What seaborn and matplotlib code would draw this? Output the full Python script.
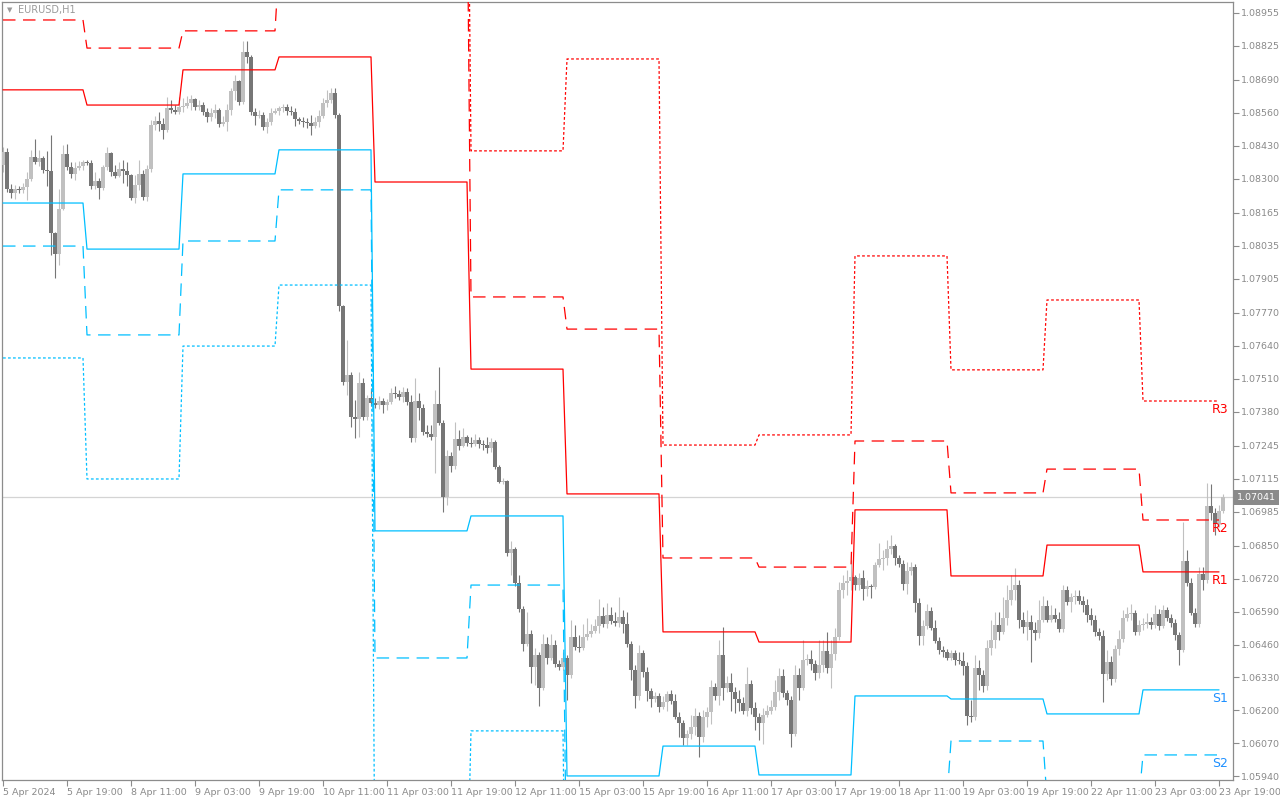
import numpy as np
import pandas as pd
import matplotlib
matplotlib.use("Agg")
import matplotlib.pyplot as plt
import matplotlib.transforms as mtransforms
import seaborn as sns

# ---------------- data (EURUSD H1, 5 Apr 03:00 -> 23 Apr 20:00) ----------------
first_open = 1.08354

closes = [
    1.08406, 1.08259, 1.08244, 1.08259, 1.08255, 1.08267, 1.08299, 1.08386, 1.08366, 1.08382,
    1.08334, 1.08331, 1.08086, 1.08003, 1.08180, 1.08398, 1.08346, 1.08319, 1.08342, 1.08350,
    1.08366, 1.08362, 1.08271, 1.08291, 1.08263, 1.08346, 1.08402, 1.08327, 1.08311, 1.08338,
    1.08331, 1.08315, 1.08224, 1.08275, 1.08319, 1.08228, 1.08338, 1.08512, 1.08528, 1.08516,
    1.08493, 1.08579, 1.08572, 1.08564, 1.08583, 1.08587, 1.08599, 1.08615, 1.08583, 1.08591,
    1.08564, 1.08544, 1.08560, 1.08572, 1.08516, 1.08524, 1.08572, 1.08647, 1.08686, 1.08603,
    1.08801, 1.08781, 1.08564, 1.08548, 1.08552, 1.08504, 1.08524, 1.08560, 1.08568, 1.08579,
    1.08583, 1.08568, 1.08564, 1.08536, 1.08528, 1.08524, 1.08520, 1.08508, 1.08524, 1.08548,
    1.08599, 1.08611, 1.08639, 1.08552, 1.07797, 1.07497, 1.07525, 1.07359, 1.07351, 1.07493,
    1.07359, 1.07434, 1.07414, 1.07406, 1.07422, 1.07406, 1.07418, 1.07454, 1.07450, 1.07438,
    1.07458, 1.07418, 1.07276, 1.07422, 1.07394, 1.07300, 1.07292, 1.07280, 1.07410, 1.07335,
    1.07043, 1.07205, 1.07165, 1.07272, 1.07244, 1.07280, 1.07256, 1.07252, 1.07268, 1.07252,
    1.07248, 1.07236, 1.07260, 1.07161, 1.07102, 1.07106, 1.06822, 1.06837, 1.06703, 1.06600,
    1.06462, 1.06502, 1.06371, 1.06419, 1.06288, 1.06462, 1.06407, 1.06458, 1.06383, 1.06371,
    1.06407, 1.06340, 1.06490, 1.06450, 1.06446, 1.06490, 1.06502, 1.06514, 1.06533, 1.06573,
    1.06541, 1.06577, 1.06553, 1.06545, 1.06569, 1.06541, 1.06462, 1.06360, 1.06257, 1.06427,
    1.06352, 1.06277, 1.06245, 1.06257, 1.06213, 1.06233, 1.06265, 1.06237, 1.06174, 1.06150,
    1.06091, 1.06107, 1.06134, 1.06178, 1.06095, 1.06174, 1.06194, 1.06292, 1.06257, 1.06419,
    1.06288, 1.06308, 1.06273, 1.06245, 1.06229, 1.06198, 1.06304, 1.06209, 1.06174, 1.06150,
    1.06182, 1.06198, 1.06213, 1.06273, 1.06336, 1.06269, 1.06241, 1.06107, 1.06340, 1.06288,
    1.06399, 1.06403, 1.06383, 1.06348, 1.06379, 1.06435, 1.06367, 1.06423, 1.06490, 1.06676,
    1.06703, 1.06711, 1.06727, 1.06695, 1.06723, 1.06679, 1.06691, 1.06689, 1.06774, 1.06798,
    1.06802, 1.06837, 1.06849, 1.06802, 1.06778, 1.06699, 1.06751, 1.06766, 1.06624, 1.06494,
    1.06533, 1.06593, 1.06525, 1.06474, 1.06439, 1.06431, 1.06407, 1.06427, 1.06399, 1.06395,
    1.06375, 1.06178, 1.06174, 1.06367, 1.06340, 1.06296, 1.06446, 1.06478, 1.06537, 1.06510,
    1.06565, 1.06636, 1.06676, 1.06695, 1.06557, 1.06529, 1.06549, 1.06518, 1.06506, 1.06557,
    1.06612, 1.06557, 1.06577, 1.06561, 1.06521, 1.06676, 1.06628, 1.06648, 1.06652, 1.06632,
    1.06616, 1.06577, 1.06557, 1.06510, 1.06494, 1.06344, 1.06391, 1.06324, 1.06442, 1.06482,
    1.06565, 1.06581, 1.06585, 1.06510, 1.06537, 1.06541, 1.06549, 1.06537, 1.06581, 1.06533,
    1.06597, 1.06565, 1.06545, 1.06498, 1.06439, 1.06790, 1.06703, 1.06585, 1.06541, 1.06739,
    1.06715, 1.07007, 1.06980, 1.06936, 1.06988, 1.07041,
]

highs = [
    1.08425, 1.08421, 1.08279, 1.08275, 1.08271, 1.08283, 1.08327, 1.08414, 1.08457, 1.08414,
    1.08390, 1.08410, 1.08473, 1.08090, 1.08259, 1.08433, 1.08437, 1.08366, 1.08366, 1.08370,
    1.08374, 1.08374, 1.08374, 1.08327, 1.08303, 1.08354, 1.08425, 1.08406, 1.08354, 1.08366,
    1.08374, 1.08366, 1.08319, 1.08315, 1.08374, 1.08334, 1.08354, 1.08532, 1.08548, 1.08564,
    1.08540, 1.08623, 1.08611, 1.08591, 1.08623, 1.08619, 1.08627, 1.08631, 1.08619, 1.08611,
    1.08603, 1.08579, 1.08579, 1.08595, 1.08579, 1.08548, 1.08595, 1.08658, 1.08710, 1.08690,
    1.08844, 1.08844, 1.08789, 1.08579, 1.08572, 1.08564, 1.08540, 1.08579, 1.08579, 1.08587,
    1.08595, 1.08595, 1.08587, 1.08579, 1.08544, 1.08544, 1.08540, 1.08552, 1.08544, 1.08572,
    1.08619, 1.08651, 1.08658, 1.08658, 1.08560, 1.07801, 1.07663, 1.07537, 1.07426, 1.07537,
    1.07513, 1.07446, 1.07473, 1.07434, 1.07442, 1.07434, 1.07430, 1.07473, 1.07481, 1.07466,
    1.07477, 1.07473, 1.07446, 1.07513, 1.07454, 1.07410, 1.07327, 1.07327, 1.07466, 1.07556,
    1.07347, 1.07229, 1.07221, 1.07339, 1.07308, 1.07315, 1.07288, 1.07280, 1.07292, 1.07280,
    1.07268, 1.07280, 1.07276, 1.07268, 1.07169, 1.07118, 1.07110, 1.06869, 1.06845, 1.06735,
    1.06612, 1.06589, 1.06518, 1.06446, 1.06431, 1.06502, 1.06490, 1.06502, 1.06478, 1.06399,
    1.06431, 1.06419, 1.06557, 1.06537, 1.06498, 1.06541, 1.06565, 1.06541, 1.06561, 1.06640,
    1.06608, 1.06624, 1.06608, 1.06589, 1.06648, 1.06597, 1.06589, 1.06474, 1.06379, 1.06458,
    1.06439, 1.06371, 1.06288, 1.06273, 1.06269, 1.06257, 1.06277, 1.06281, 1.06265, 1.06194,
    1.06162, 1.06123, 1.06182, 1.06209, 1.06194, 1.06202, 1.06213, 1.06320, 1.06308, 1.06478,
    1.06529, 1.06336, 1.06348, 1.06292, 1.06281, 1.06253, 1.06371, 1.06320, 1.06233, 1.06190,
    1.06209, 1.06221, 1.06241, 1.06320, 1.06367, 1.06363, 1.06281, 1.06257, 1.06379, 1.06367,
    1.06478, 1.06423, 1.06439, 1.06399, 1.06478, 1.06478, 1.06510, 1.06478, 1.06525, 1.06707,
    1.06735, 1.06754, 1.06794, 1.06735, 1.06743, 1.06754, 1.06715, 1.06699, 1.06786, 1.06861,
    1.06833, 1.06873, 1.06893, 1.06857, 1.06814, 1.06794, 1.06786, 1.06786, 1.06778, 1.06644,
    1.06557, 1.06620, 1.06608, 1.06557, 1.06490, 1.06454, 1.06443, 1.06439, 1.06439, 1.06431,
    1.06431, 1.06391, 1.06241, 1.06419, 1.06399, 1.06360, 1.06478, 1.06557, 1.06589, 1.06589,
    1.06648, 1.06695, 1.06735, 1.06762, 1.06715, 1.06589, 1.06597, 1.06577, 1.06549, 1.06636,
    1.06652, 1.06636, 1.06616, 1.06604, 1.06589, 1.06695, 1.06691, 1.06664, 1.06676, 1.06676,
    1.06652, 1.06640, 1.06604, 1.06577, 1.06525, 1.06517, 1.06439, 1.06415, 1.06458, 1.06517,
    1.06597, 1.06608, 1.06620, 1.06597, 1.06557, 1.06565, 1.06585, 1.06569, 1.06616, 1.06600,
    1.06616, 1.06608, 1.06581, 1.06561, 1.06510, 1.06944, 1.06833, 1.06723, 1.06604, 1.06766,
    1.06766, 1.07098, 1.07094, 1.06999, 1.07011, 1.07055,
]

lows = [
    1.08327, 1.08248, 1.08224, 1.08220, 1.08244, 1.08244, 1.08216, 1.08291, 1.08358, 1.08350,
    1.08323, 1.08271, 1.07999, 1.07908, 1.07959, 1.08177, 1.08334, 1.08303, 1.08295, 1.08334,
    1.08334, 1.08354, 1.08259, 1.08259, 1.08220, 1.08255, 1.08334, 1.08311, 1.08303, 1.08307,
    1.08283, 1.08271, 1.08216, 1.08204, 1.08255, 1.08216, 1.08212, 1.08327, 1.08493, 1.08489,
    1.08457, 1.08485, 1.08560, 1.08556, 1.08556, 1.08564, 1.08579, 1.08572, 1.08572, 1.08572,
    1.08552, 1.08524, 1.08528, 1.08540, 1.08504, 1.08508, 1.08489, 1.08552, 1.08611, 1.08591,
    1.08595, 1.08757, 1.08552, 1.08512, 1.08540, 1.08493, 1.08481, 1.08512, 1.08556, 1.08552,
    1.08564, 1.08552, 1.08552, 1.08508, 1.08516, 1.08504, 1.08500, 1.08473, 1.08500, 1.08504,
    1.08540, 1.08583, 1.08599, 1.08540, 1.07778, 1.07485, 1.07446, 1.07319, 1.07276, 1.07280,
    1.07347, 1.07347, 1.07402, 1.07394, 1.07390, 1.07375, 1.07386, 1.07410, 1.07434, 1.07426,
    1.07418, 1.07406, 1.07260, 1.07260, 1.07347, 1.07288, 1.07280, 1.07268, 1.07138, 1.07327,
    1.06984, 1.07011, 1.07142, 1.07153, 1.07228, 1.07240, 1.07244, 1.07240, 1.07244, 1.07236,
    1.07228, 1.07217, 1.07221, 1.07153, 1.07098, 1.07094, 1.06810, 1.06735, 1.06691, 1.06589,
    1.06435, 1.06454, 1.06308, 1.06300, 1.06217, 1.06281, 1.06383, 1.06399, 1.06371, 1.06360,
    1.06360, 1.06241, 1.06328, 1.06439, 1.06431, 1.06439, 1.06478, 1.06490, 1.06506, 1.06506,
    1.06529, 1.06525, 1.06541, 1.06533, 1.06529, 1.06506, 1.06450, 1.06320, 1.06209, 1.06241,
    1.06332, 1.06237, 1.06213, 1.06233, 1.06194, 1.06205, 1.06198, 1.06225, 1.06166, 1.06095,
    1.06063, 1.06063, 1.06087, 1.06103, 1.06016, 1.06075, 1.06134, 1.06146, 1.06241, 1.06221,
    1.06241, 1.06273, 1.06198, 1.06190, 1.06198, 1.06186, 1.06178, 1.06186, 1.06123, 1.06083,
    1.06067, 1.06174, 1.06186, 1.06202, 1.06241, 1.06253, 1.06221, 1.06055, 1.06099, 1.06241,
    1.06281, 1.06379, 1.06360, 1.06320, 1.06328, 1.06352, 1.06348, 1.06288, 1.06399, 1.06478,
    1.06644, 1.06656, 1.06676, 1.06676, 1.06676, 1.06636, 1.06652, 1.06644, 1.06679, 1.06766,
    1.06754, 1.06774, 1.06818, 1.06774, 1.06766, 1.06676, 1.06660, 1.06735, 1.06589, 1.06458,
    1.06458, 1.06521, 1.06517, 1.06466, 1.06423, 1.06411, 1.06399, 1.06399, 1.06379, 1.06383,
    1.06340, 1.06142, 1.06154, 1.06162, 1.06281, 1.06273, 1.06281, 1.06419, 1.06446, 1.06478,
    1.06502, 1.06537, 1.06616, 1.06636, 1.06525, 1.06506, 1.06478, 1.06391, 1.06478, 1.06486,
    1.06549, 1.06549, 1.06549, 1.06549, 1.06510, 1.06510, 1.06616, 1.06589, 1.06620, 1.06620,
    1.06589, 1.06549, 1.06537, 1.06494, 1.06478, 1.06233, 1.06320, 1.06300, 1.06312, 1.06419,
    1.06470, 1.06553, 1.06557, 1.06498, 1.06498, 1.06517, 1.06525, 1.06521, 1.06525, 1.06517,
    1.06525, 1.06553, 1.06529, 1.06478, 1.06379, 1.06431, 1.06691, 1.06577, 1.06529, 1.06529,
    1.06676, 1.06703, 1.06952, 1.06893, 1.06924, 1.06980,
]

# daily pivot levels (first bar index of each trading day)
day_start = [0, 21, 45, 69, 93, 117, 141, 165, 189, 213, 237, 261, 285]
R3 = [1.0930, 1.0905, 1.0904, 1.0950, 1.1000, 1.08410, 1.08773, 1.07248, 1.07288, 1.07995, 1.07545, 1.07821, 1.07422]
R2 = [1.08927, 1.08816, 1.08884, 1.0915, 1.0950, 1.07833, 1.07706, 1.06802, 1.06766, 1.07264, 1.07059, 1.07153, 1.06952]
R1 = [1.08651, 1.08591, 1.08730, 1.08781, 1.08287, 1.07548, 1.07055, 1.06510, 1.06470, 1.06992, 1.06731, 1.06853, 1.06747]
S1 = [1.08204, 1.08022, 1.08319, 1.08414, 1.06909, 1.06968, 1.05941, 1.06059, 1.05945, 1.06257, 1.06245, 1.06186, 1.06281]
S2 = [1.08034, 1.07683, 1.08054, 1.08256, 1.06407, 1.06695, 1.0540, 1.0580, 1.0575, 1.0585, 1.06079, 1.0585, 1.06024]
S3 = [1.07592, 1.07114, 1.07639, 1.07880, 1.0545, 1.06119, 1.0480, 1.0560, 1.0550, 1.0550, 1.0580, 1.0560, 1.0575]

y_tick_labels = ['1.08955', '1.08825', '1.08690', '1.08560', '1.08430', '1.08300', '1.08165',
                 '1.08035', '1.07905', '1.07770', '1.07640', '1.07510', '1.07380', '1.07245',
                 '1.07115', '1.06985', '1.06850', '1.06720', '1.06590', '1.06460', '1.06330',
                 '1.06200', '1.06070', '1.05940']
x_tick_labels = ['5 Apr 2024', '5 Apr 19:00', '8 Apr 11:00', '9 Apr 03:00', '9 Apr 19:00',
                 '10 Apr 11:00', '11 Apr 03:00', '11 Apr 19:00', '12 Apr 11:00', '15 Apr 03:00',
                 '15 Apr 19:00', '16 Apr 11:00', '17 Apr 03:00', '17 Apr 19:00', '18 Apr 11:00',
                 '19 Apr 03:00', '19 Apr 19:00', '22 Apr 11:00', '23 Apr 03:00', '23 Apr 19:00']
current_price = 1.07041
symbol_title = 'EURUSD,H1'

# ---------------- styling ----------------
sns.set_theme(style="white")
plt.rcParams['font.family'] = ['DejaVu Sans']

UP_COL = '#c0c0c0'
DN_COL = '#767676'
RES_COL = '#ff0000'
SUP_COL = '#00bfff'
SUP_TXT = '#1e90ff'
AXIS_COL = '#8c8c8c'

c = np.array(closes)
h = np.array(highs)
l = np.array(lows)
n = len(c)
bars = np.arange(n)
o = np.concatenate([[first_open], c[:-1]])
up = c >= o

fig = plt.figure(figsize=(12.8, 8), dpi=100)
ax = fig.add_axes([2 / 1280, 20 / 800, 1231 / 1280, 778 / 800])
ax.set_facecolor('white')

# current price line
ax.axhline(current_price, color='#d4d4d4', lw=0.9, zorder=1)

# candles
ax.vlines(bars[up], l[up], h[up], color=UP_COL, lw=0.8, zorder=2)
ax.vlines(bars[~up], l[~up], h[~up], color=DN_COL, lw=0.8, zorder=2)
body_bottom = np.minimum(o, c)
body_h = np.maximum(np.abs(c - o), 0.00003)
ax.bar(bars[up], body_h[up], bottom=body_bottom[up], width=0.78, color=UP_COL, lw=0, zorder=3)
ax.bar(bars[~up], body_h[~up], bottom=body_bottom[~up], width=0.78, color=DN_COL, lw=0, zorder=3)

# pivot lines through seaborn
levels = {'R3': R3, 'R2': R2, 'R1': R1, 'S1': S1, 'S2': S2, 'S3': S3}
line_bars = np.arange(n - 1)
day_idx = np.searchsorted(day_start, line_bars, side='right') - 1
frames = []
for name, vals in levels.items():
    frames.append(pd.DataFrame({'bar': line_bars,
                                'price': np.asarray(vals)[day_idx],
                                'level': name}))
df = pd.concat(frames, ignore_index=True)
palette = {'R3': RES_COL, 'R2': RES_COL, 'R1': RES_COL,
           'S1': SUP_COL, 'S2': SUP_COL, 'S3': SUP_COL}
dashes = {'R1': '', 'S1': '', 'R2': (10, 6), 'S2': (10, 6), 'R3': (2.2, 1.8), 'S3': (2.2, 1.8)}
sns.lineplot(data=df, x='bar', y='price', hue='level', style='level',
             palette=palette, dashes=dashes, estimator=None, sort=False,
             legend=False, lw=0.9, ax=ax, zorder=4)

# level labels at right end
for name in ['R3', 'R2', 'R1', 'S1', 'S2']:
    val = levels[name][-1]
    col = RES_COL if name.startswith('R') else SUP_TXT
    ax.annotate(name, xy=(302.3, val), xytext=(0, -2), textcoords='offset pixels',
                ha='left', va='top', color=col, fontsize=9, zorder=6,
                annotation_clip=False)

# axes limits / ticks
ax.set_xlim(-0.25, 307.5)
ax.set_ylim(1.05925, 1.08998)
ax.set_xlabel('')
ax.set_ylabel('')

ax.yaxis.tick_right()
ax.set_yticks([float(s) for s in y_tick_labels])
ax.set_yticklabels(y_tick_labels)
ax.set_xticks(np.arange(0, 16 * len(x_tick_labels), 16))
ax.set_xticklabels(x_tick_labels, ha='left')
ax.tick_params(axis='y', which='major', direction='out', length=4, width=0.8,
               color=AXIS_COL, labelcolor='#8a8a8a', labelsize=6.8, pad=2,
               right=True, left=False, labelright=True, labelleft=False)
ax.tick_params(axis='x', which='major', direction='out', length=4, width=0.8,
               color=AXIS_COL, labelcolor='#8a8a8a', labelsize=6.8, pad=2,
               bottom=True)
for sp in ax.spines.values():
    sp.set_color(AXIS_COL)
    sp.set_linewidth(0.9)
    sp.set_visible(True)

# current price tag on axis
trans = mtransforms.blended_transform_factory(ax.transAxes, ax.transData)
ax.text(1.0035, current_price, f'{current_price:.5f}', transform=trans,
        ha='left', va='center', fontsize=6.8, color='white',
        bbox=dict(boxstyle='square,pad=0.3', fc='#8a8a8a', ec='none'),
        clip_on=False, zorder=10)

# symbol title
fig.text(7 / 1280, 1 - 10 / 800, '\u25BC', fontsize=5, color='#999999', va='center', ha='left')
fig.text(18 / 1280, 1 - 10 / 800, symbol_title, fontsize=7, color='#9a9a9a', va='center', ha='left')

fig.savefig('out.png', dpi=100)
